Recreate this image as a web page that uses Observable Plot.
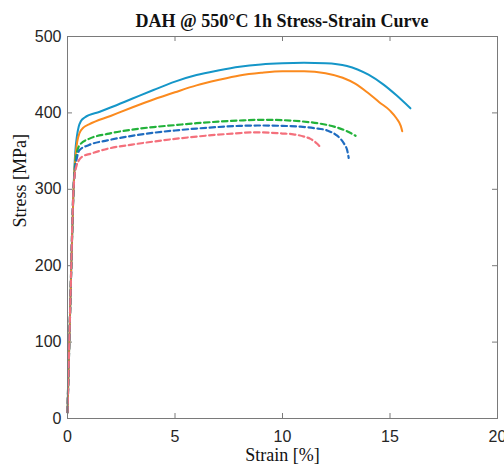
<!DOCTYPE html>
<html><head><meta charset="utf-8">
<script src="https://cdn.jsdelivr.net/npm/d3@7"></script>
<script src="https://cdn.jsdelivr.net/npm/@observablehq/plot@0.6"></script>
<style>
body{margin:0;background:#fff;}
#title{width:430px;margin-left:67px;height:20px;line-height:20px;text-align:center;font:bold 18px "Liberation Serif","Times New Roman",serif;color:#111;white-space:nowrap;position:relative;top:11px;}
#chart svg{display:block;overflow:visible;}
</style></head><body>
<div id="title">DAH @ 550°C 1h Stress-Strain Curve</div>
<div id="chart"></div>
<script>
const titleText = "DAH @ 550°C 1h Stress-Strain Curve";
const xLabel = "Strain [%]";
const yLabel = "Stress [MPa]";
const xTicks = [0, 5, 10, 15, 20];
const yTicks = [0, 100, 200, 300, 400, 500];

// Solid blue
const s1Strain = [0, 0.14, 0.28, 0.36, 0.44, 0.52, 0.62, 0.8, 1.5, 2, 3, 4, 5, 6, 7, 8, 9, 10, 11, 12, 13, 14, 14.7, 15.3, 15.95];
const s1Stress = [8, 160, 300, 348, 370, 382, 389, 394, 401.5, 407, 418.5, 430, 441, 449.5, 455.5, 460.5, 463.5, 465, 465.5, 465, 461.5, 450, 437, 423, 406];
// Solid orange
const s2Strain = [0, 0.14, 0.28, 0.36, 0.45, 0.55, 0.75, 1, 2, 3, 4, 5, 6, 7, 8, 9, 10, 11, 12, 12.8, 13.4, 13.94, 14.5, 15, 15.3, 15.5, 15.57];
const s2Stress = [8, 160, 300, 340, 362, 373, 381, 385, 396, 407, 417.5, 427, 436, 443, 449, 452.5, 454.5, 454.5, 452, 446, 438, 427, 414, 403, 393, 383, 376];
// Dashed green
const s3Strain = [0, 0.14, 0.28, 0.35, 0.45, 0.6, 1, 1.85, 3, 4, 5, 6, 7, 8, 9, 10, 10.84, 11.5, 12.4, 13, 13.4];
const s3Stress = [8, 160, 300, 330, 350, 359, 366, 372.5, 378, 381.5, 384, 386.5, 388.5, 390, 391, 390.5, 389, 387, 382, 376, 370];
// Dashed blue
const s4Strain = [0, 0.14, 0.28, 0.35, 0.45, 0.55, 1, 1.85, 3, 4, 5, 6, 7, 8, 9, 10, 10.84, 11.5, 12.08, 12.5, 12.7, 12.9, 13.0, 13.08];
const s4Stress = [8, 160, 300, 325, 343, 351, 358, 364, 370, 374, 377, 379.5, 381.5, 383, 383.5, 383, 382, 380, 377, 371, 366, 358, 352, 341];
// Dashed red
const s5Strain = [0, 0.14, 0.28, 0.33, 0.42, 0.53, 0.7, 1.07, 1.85, 3, 4, 5, 6, 7, 8, 8.5, 9, 10, 10.5, 11, 11.3, 11.6, 11.77];
const s5Stress = [8, 160, 300, 318, 331, 338, 343, 346.5, 353, 358.5, 362.5, 366, 369, 371.5, 373.5, 374.5, 374.5, 373, 372, 369, 366, 360, 355];

const seriesColors = ["#1596c8", "#fb8a1e", "#22b23a", "#1f6cc0", "#f4707c"];
const seriesDashed = [false, false, true, true, true];
const strains = [s1Strain, s2Strain, s3Strain, s4Strain, s5Strain];
const stresses = [s1Stress, s2Stress, s3Stress, s4Stress, s5Stress];

const tables = strains.map((xs, i) => xs.map((x, j) => ({strain: x, stress: stresses[i][j]})));

const W = 504, H = 446, mL = 67, mR = 7, mT = 16, mB = 48;
const fw = W - mL - mR, fh = H - mT - mB, tl = 5;
const axisColor = "#7a7a7a";

const lineMarks = tables.map((t, i) => Plot.line(t, {
  x: "strain", y: "stress", stroke: seriesColors[i], strokeWidth: seriesDashed[i] ? 2.2 : 2,
  strokeDasharray: seriesDashed[i] ? "5.5,3.5" : null, curve: "monotone-x"
}));

const chart = Plot.plot({
  width: W, height: H, marginLeft: mL, marginRight: mR, marginTop: mT, marginBottom: mB,
  x: {domain: [0, 20], label: null},
  y: {domain: [0, 500], label: null},
  style: {fontFamily: "'Liberation Sans', Arial, sans-serif", fontSize: "16px", color: "#262626", background: "#fff", overflow: "visible"},
  marks: [
    Plot.tickX(xTicks, {x: d => d, insetTop: fh - tl, stroke: axisColor}),
    Plot.tickX(xTicks, {x: d => d, insetBottom: fh - tl, stroke: axisColor}),
    Plot.tickY(yTicks, {y: d => d, insetRight: fw - tl, stroke: axisColor}),
    Plot.tickY(yTicks, {y: d => d, insetLeft: fw - tl, stroke: axisColor}),
    ...lineMarks,
    Plot.frame({stroke: axisColor}),
    Plot.axisX(xTicks, {tickSize: 0, tickPadding: 12, fill: "#262626"}),
    Plot.axisY(yTicks, {tickSize: 0, tickPadding: 6, fill: "#262626"}),
    Plot.text([xLabel], {frameAnchor: "bottom", dy: 42, fontFamily: "'Liberation Serif', serif", fontSize: 18, fill: "#111"}),
    Plot.text([yLabel], {frameAnchor: "left", dx: -47, rotate: -90, fontFamily: "'Liberation Serif', serif", fontSize: 18, fill: "#111"})
  ]
});
document.getElementById("chart").appendChild(chart);
</script>
</body></html>
